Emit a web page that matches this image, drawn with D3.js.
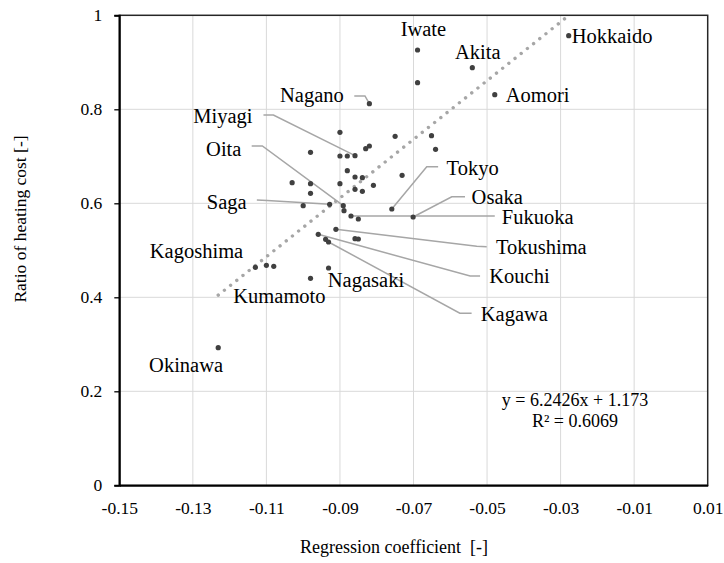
<!DOCTYPE html>
<html>
<head>
<meta charset="utf-8">
<script src="https://cdn.jsdelivr.net/npm/d3@7"></script>
<style>
  html, body { margin: 0; padding: 0; background: #fff; }
  svg, svg text { font-family: "Liberation Serif", "Times New Roman", serif; }
</style>
</head>
<body>
<svg id="chart" width="724" height="563"></svg>
<script>
const SERIF = "'Liberation Serif', 'Times New Roman', serif";

// Prefecture name (empty where the point carries no label)
const names = [
  "Hokkaido", "Iwate", "", "Akita", "Aomori", "Nagano", "", "", "", "",
  "", "", "", "", "", "Miyagi", "", "", "", "",
  "", "", "", "", "", "", "", "Saga", "", "Oita",
  "", "Tokyo", "Osaka", "Fukuoka", "", "Tokushima", "Kouchi", "", "", "",
  "Kagawa", "Kagoshima", "", "", "Nagasaki", "Kumamoto", "Okinawa"
];
// Regression coefficient [-]
const coef = [
  -0.0278, -0.0689, -0.0689, -0.0540, -0.0479, -0.0820, -0.0900, -0.0750, -0.0651, -0.0640,
  -0.0830, -0.0820, -0.0980, -0.0900, -0.0880, -0.0859, -0.0880, -0.0731, -0.0859, -0.0839,
  -0.1030, -0.0980, -0.0900, -0.0809, -0.0859, -0.0839, -0.0980, -0.0928, -0.1000, -0.0891,
  -0.0889, -0.0759, -0.0701, -0.0870, -0.0850, -0.0911, -0.0959, -0.0859, -0.0850, -0.0939,
  -0.0931, -0.1130, -0.1100, -0.1080, -0.0931, -0.0980, -0.1231
];
// Ratio of heating cost [-]
const ratio = [
  0.9566, 0.9262, 0.8566, 0.8885, 0.8311, 0.8119, 0.7510, 0.7426, 0.7438, 0.7149,
  0.7162, 0.7219, 0.7085, 0.7006, 0.7006, 0.7013, 0.6694, 0.6596, 0.6560, 0.6545,
  0.6438, 0.6417, 0.6417, 0.6383, 0.6298, 0.6255, 0.6213, 0.5979, 0.5949, 0.5949,
  0.5843, 0.5879, 0.5709, 0.5730, 0.5666, 0.5447, 0.5340, 0.5247, 0.5240, 0.5234,
  0.5177, 0.4638, 0.4680, 0.4660, 0.4623, 0.4404, 0.2928
];

// Linear fit shown on the chart
const fitSlope = 6.2426;
const fitIntercept = 1.173;
const fitR2 = 0.6069;

const xTicks = [-0.15, -0.13, -0.11, -0.09, -0.07, -0.05, -0.03, -0.01, 0.01];
const xTickLabels = ["-0.15", "-0.13", "-0.11", "-0.09", "-0.07", "-0.05", "-0.03", "-0.01", "0.01"];
const yTicks = [0, 0.2, 0.4, 0.6, 0.8, 1];
const yTickLabels = ["0", "0.2", "0.4", "0.6", "0.8", "1"];

// Label placement in data units: text start (tx, ty); optional leader bend (bx, by) and end (ex, ey)
const labelLayout = [
  { name: "Hokkaido", tx: -0.0270, ty: 0.9404 },
  { name: "Iwate",    tx: -0.0735, ty: 0.9560 },
  { name: "Akita",    tx: -0.0587, ty: 0.9064 },
  { name: "Aomori",   tx: -0.0449, ty: 0.8162 },
  { name: "Nagano",   tx: -0.1063, ty: 0.8145, bx: -0.0832, by: 0.8283, ex: -0.0861, ey: 0.8283 },
  { name: "Miyagi",   tx: -0.1299, ty: 0.7717, bx: -0.1081, by: 0.7879, ex: -0.1108, ey: 0.7879 },
  { name: "Oita",     tx: -0.1264, ty: 0.7017, bx: -0.1111, by: 0.7219, ex: -0.1140, ey: 0.7219 },
  { name: "Saga",     tx: -0.1262, ty: 0.5889, bx: -0.1098, by: 0.6060, ex: -0.1126, ey: 0.6070 },
  { name: "Kagoshima",tx: -0.1417, ty: 0.4830 },
  { name: "Kumamoto", tx: -0.1190, ty: 0.3885 },
  { name: "Nagasaki", tx: -0.0933, ty: 0.4213 },
  { name: "Okinawa",  tx: -0.1419, ty: 0.2417 },
  { name: "Tokyo",    tx: -0.0610, ty: 0.6602, bx: -0.0664, by: 0.6779, ex: -0.0633, ey: 0.6779 },
  { name: "Osaka",    tx: -0.0542, ty: 0.5985, bx: -0.0596, by: 0.6140, ex: -0.0560, ey: 0.6140 },
  { name: "Fukuoka",  tx: -0.0460, ty: 0.5560, bx: -0.0506, by: 0.5730, ex: -0.0479, ey: 0.5730 },
  { name: "Tokushima",tx: -0.0476, ty: 0.4921, bx: -0.0528, by: 0.5085, ex: -0.0501, ey: 0.5077 },
  { name: "Kouchi",   tx: -0.0494, ty: 0.4298, bx: -0.0546, by: 0.4453, ex: -0.0519, ey: 0.4453 },
  { name: "Kagawa",   tx: -0.0517, ty: 0.3502, bx: -0.0574, by: 0.3660, ex: -0.0542, ey: 0.3660 }
];

const points = coef.map((c, i) => ({ name: names[i], x: c, y: ratio[i] }));

const svg = d3.select("#chart");
const plot = { left: 119.3, right: 707.7, top: 15.3, bottom: 485.3 };

const x = d3.scaleLinear().domain([-0.15, 0.01]).range([plot.left, plot.right]);
const y = d3.scaleLinear().domain([0, 1]).range([plot.bottom, plot.top]);

// Gridlines
const grid = svg.append("g").attr("stroke", "#d9d9d9").attr("stroke-width", 1);
grid.selectAll("line.v").data(xTicks.slice(1, -1)).join("line")
  .attr("x1", d => x(d)).attr("x2", d => x(d))
  .attr("y1", plot.top).attr("y2", plot.bottom);
grid.selectAll("line.h").data(yTicks.slice(1, -1)).join("line")
  .attr("x1", plot.left).attr("x2", plot.right)
  .attr("y1", d => y(d)).attr("y2", d => y(d));

// Plot frame
svg.append("rect")
  .attr("x", plot.left).attr("y", plot.top)
  .attr("width", plot.right - plot.left).attr("height", plot.bottom - plot.top)
  .attr("fill", "none").attr("stroke", "#262626").attr("stroke-width", 1.5);

// Axes
const yAxis = d3.axisLeft(y).tickValues(yTicks).tickSize(5).tickPadding(12)
  .tickFormat((d, i) => yTickLabels[i]);
const gy = svg.append("g").attr("transform", `translate(${plot.left},0)`).call(yAxis)
  .attr("font-family", SERIF);
gy.select(".domain").attr("stroke", "#000").attr("stroke-width", 2);
gy.selectAll(".tick line").attr("stroke", "#000").attr("stroke-width", 1.3);
gy.selectAll(".tick text").attr("font-size", 17.5).attr("fill", "#000")
  .attr("font-family", SERIF);

const xAxis = d3.axisBottom(x).tickValues(xTicks).tickSize(0).tickPadding(16)
  .tickFormat((d, i) => xTickLabels[i]);
const gx = svg.append("g").attr("transform", `translate(0,${plot.bottom})`).call(xAxis)
  .attr("font-family", SERIF);
gx.select(".domain").attr("stroke", "#000").attr("stroke-width", 2);
gx.selectAll(".tick text").attr("font-size", 17.5).attr("fill", "#000")
  .attr("font-family", SERIF);

// Axis titles
svg.append("text")
  .attr("x", 300).attr("y", 553)
  .attr("font-family", SERIF).attr("font-size", 18).attr("fill", "#000")
  .attr("xml:space", "preserve")
  .text("Regression coefficient  [-]");
svg.append("text")
  .attr("transform", "translate(26,219) rotate(-90)")
  .attr("text-anchor", "middle").attr("font-family", SERIF)
  .attr("font-size", 17.5).attr("fill", "#000")
  .text("Ratio of heating cost [-]");

// Trendline over the data range
const xExt = d3.extent(coef);
svg.append("line")
  .attr("x1", x(xExt[0])).attr("y1", y(fitSlope * xExt[0] + fitIntercept))
  .attr("x2", x(xExt[1])).attr("y2", y(fitSlope * xExt[1] + fitIntercept))
  .attr("stroke", "#a6a6a6").attr("stroke-width", 3.4)
  .attr("stroke-linecap", "round").attr("stroke-dasharray", "0.01 7.9");

// Leader lines from labelled points
const byName = new Map(points.filter(p => p.name).map(p => [p.name, p]));
const leaders = labelLayout.filter(l => l.bx !== undefined);
svg.append("g").attr("fill", "none").attr("stroke", "#a6a6a6").attr("stroke-width", 1.5)
  .selectAll("path").data(leaders).join("path")
  .attr("d", l => {
    const p = byName.get(l.name);
    return d3.line()([[x(p.x), y(p.y)], [x(l.bx), y(l.by)], [x(l.ex), y(l.ey)]]);
  });

// Points
svg.append("g").attr("fill", "#404040")
  .selectAll("circle").data(points).join("circle")
  .attr("cx", d => x(d.x)).attr("cy", d => y(d.y)).attr("r", 2.6);

// Point labels
svg.append("g").attr("font-family", SERIF).attr("font-size", 20.5).attr("fill", "#000")
  .selectAll("text").data(labelLayout).join("text")
  .attr("font-family", SERIF)
  .attr("x", l => x(l.tx)).attr("y", l => y(l.ty))
  .text(l => l.name);

// Fit equation
const eq = svg.append("g").attr("font-family", SERIF).attr("font-size", 18)
  .attr("fill", "#000").attr("text-anchor", "middle");
eq.append("text").attr("x", 575).attr("y", 406)
  .text(`y = ${fitSlope}x + ${fitIntercept}`);
eq.append("text").attr("x", 575).attr("y", 427)
  .text(`R² = ${fitR2}`);
</script>
</body>
</html>
